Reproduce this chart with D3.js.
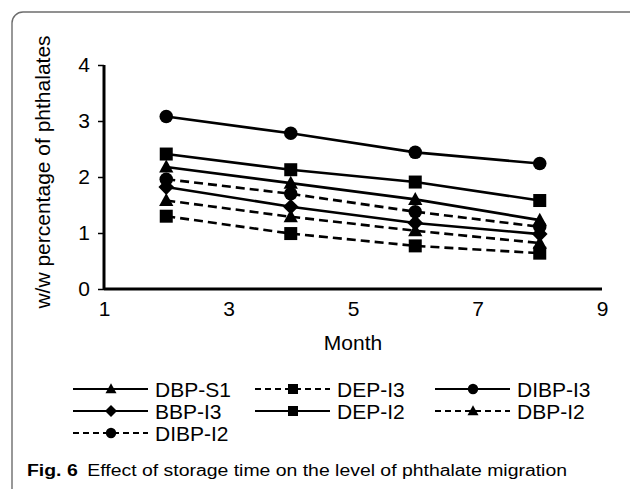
<!DOCTYPE html>
<html>
<head>
<meta charset="utf-8">
<script src="https://cdn.jsdelivr.net/npm/d3@7/dist/d3.min.js"></script>
<style>
  html, body { margin: 0; padding: 0; background: #fff; }
  svg { display: block; }
  text { font-family: "Liberation Sans", Arial, sans-serif; fill: #000; }
</style>
</head>
<body>
<svg id="chart" width="630" height="489"></svg>
<script>
// ---- data ----
const months = [2, 4, 6, 8];
const seriesNames = ["DBP-S1", "DEP-I3", "DIBP-I3", "BBP-I3", "DEP-I2", "DBP-I2", "DIBP-I2"];
const dbpS1  = [2.18, 1.89, 1.60, 1.23];
const depI3  = [1.30, 0.99, 0.77, 0.64];
const dibpI3 = [3.08, 2.78, 2.44, 2.24];
const bbpI3  = [1.82, 1.47, 1.18, 0.98];
const depI2  = [2.41, 2.13, 1.91, 1.58];
const dbpI2  = [1.58, 1.29, 1.04, 0.82];
const dibpI2 = [1.96, 1.70, 1.38, 1.11];
const seriesValues = [dbpS1, depI3, dibpI3, bbpI3, depI2, dbpI2, dibpI2];
const seriesMarker = ["triangle", "square", "circle", "diamond", "square", "triangle", "circle"];
const seriesDashed = [false, true, false, false, false, true, true];
const xTicks = [1, 3, 5, 7, 9];
const yTicks = [0, 1, 2, 3, 4];
const xTitle = "Month";
const yTitle = "w/w percentage of phthalates";
const captionBold = "Fig. 6";
const captionText = "Effect of storage time on the level of phthalate migration";

// ---- layout ----
const svg = d3.select("#chart");
const W = 630, H = 489;
const plot = { left: 104, right: 602, top: 65, bottom: 289 };

// frame
svg.append("rect")
  .attr("x", 12).attr("y", 12)
  .attr("width", 630).attr("height", 490)
  .attr("rx", 11).attr("ry", 11)
  .attr("fill", "none").attr("stroke", "#6d6d6d").attr("stroke-width", 1.4);

const x = d3.scaleLinear().domain([1, 9]).range([plot.left, plot.right]);
const y = d3.scaleLinear().domain([0, 4]).range([plot.bottom, plot.top]);

const fontSize = 21;

// y axis
const yAxis = svg.append("g")
  .attr("transform", `translate(${plot.left},0)`)
  .call(d3.axisLeft(y).tickValues(yTicks).tickSize(6).tickPadding(8).tickFormat(d3.format("d")));
yAxis.select(".domain").attr("stroke", "#000").attr("stroke-width", 3).attr("d", `M0,${plot.top}V${plot.bottom}`);
yAxis.selectAll(".tick line").attr("stroke", "#000").attr("stroke-width", 1.5);
yAxis.selectAll(".tick text").attr("font-size", fontSize).attr("font-family", "Liberation Sans, Arial, sans-serif").attr("fill", "#000");

// x axis
const xAxis = svg.append("g")
  .attr("transform", `translate(0,${plot.bottom})`)
  .call(d3.axisBottom(x).tickValues(xTicks).tickSize(0).tickPadding(12).tickFormat(d3.format("d")));
xAxis.select(".domain").attr("stroke", "#000").attr("stroke-width", 3).attr("d", `M${plot.left},0H${plot.right}`);
xAxis.selectAll(".tick text").attr("font-size", fontSize).attr("font-family", "Liberation Sans, Arial, sans-serif").attr("fill", "#000");

// axis titles
svg.append("text")
  .attr("x", (plot.left + plot.right) / 2).attr("y", 350)
  .attr("text-anchor", "middle").attr("font-size", fontSize)
  .text(xTitle);
svg.append("text")
  .attr("transform", `translate(50,${172}) rotate(-90)`)
  .attr("text-anchor", "middle").attr("font-size", fontSize)
  .text(yTitle);

// marker drawing
function drawMarker(g, type, cx, cy, s) {
  if (type === "circle") {
    g.append("circle").attr("cx", cx).attr("cy", cy).attr("r", s * 0.52).attr("fill", "#000");
  } else if (type === "square") {
    g.append("rect").attr("x", cx - s / 2).attr("y", cy - s / 2).attr("width", s).attr("height", s).attr("fill", "#000");
  } else if (type === "triangle") {
    const h = s * 0.95;
    g.append("path").attr("d", `M${cx},${cy - h * 0.6}L${cx + s * 0.55},${cy + h * 0.45}L${cx - s * 0.55},${cy + h * 0.45}Z`).attr("fill", "#000");
  } else if (type === "diamond") {
    const r = s * 0.6;
    g.append("path").attr("d", `M${cx},${cy - r}L${cx + r},${cy}L${cx},${cy + r}L${cx - r},${cy}Z`).attr("fill", "#000");
  }
}

// series
const line = d3.line().x((d, i) => x(months[i])).y(d => y(d));
const plotG = svg.append("g");
seriesValues.forEach((vals, si) => {
  plotG.append("path")
    .attr("d", line(vals))
    .attr("fill", "none").attr("stroke", "#000").attr("stroke-width", 2.6)
    .attr("stroke-dasharray", seriesDashed[si] ? "9,5" : null);
});
seriesValues.forEach((vals, si) => {
  vals.forEach((v, i) => drawMarker(plotG, seriesMarker[si], x(months[i]), y(v), 13));
});

// legend
const legCols = [73, 255, 435];
const legRows = [389, 411, 433];
const legG = svg.append("g");
seriesNames.forEach((name, si) => {
  const cx = legCols[si % 3];
  const cy = legRows[Math.floor(si / 3)];
  legG.append("line")
    .attr("x1", cx).attr("x2", cx + 75).attr("y1", cy).attr("y2", cy)
    .attr("stroke", "#000").attr("stroke-width", 2)
    .attr("stroke-dasharray", seriesDashed[si] ? "6,4" : null);
  drawMarker(legG, seriesMarker[si], cx + 38, cy, 10);
  legG.append("text")
    .attr("x", cx + 82).attr("y", cy).attr("dy", "0.36em")
    .attr("font-size", fontSize)
    .text(name);
});

// caption
const cap = svg.append("text")
  .attr("x", 27).attr("y", 476)
  .attr("font-family", "Open Sans, sans-serif")
  .attr("font-size", 16).attr("fill", "#231f20");
cap.append("tspan").attr("font-weight", "bold").text(captionBold);
cap.append("tspan").attr("dx", 8).text(captionText);
const capLen = cap.node().getComputedTextLength();
cap.attr("textLength", 540).attr("lengthAdjust", "spacingAndGlyphs");
</script>
</body>
</html>
